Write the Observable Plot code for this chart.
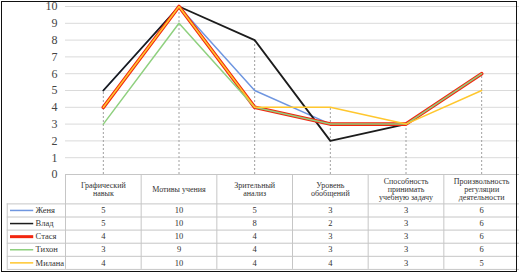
<!DOCTYPE html>
<html>
<head>
<meta charset="utf-8">
<script src="https://cdn.jsdelivr.net/npm/d3@7"></script>
<script src="https://cdn.jsdelivr.net/npm/@observablehq/plot@0.6"></script>
<style>
  html, body { margin: 0; padding: 0; background: #fff; }
  #wrap { position: relative; width: 519px; height: 275px; }
  #wrap svg, #wrap svg text { font-family: "Liberation Serif", "DejaVu Serif", serif !important; }
  #border { position: absolute; left: 1px; top: 1px; width: 514px; height: 269px; border: 1.5px solid #111; pointer-events: none; }
</style>
</head>
<body>
<div id="wrap"><div id="border"></div></div>
<script>
const categories = ["Графический навык", "Мотивы учения", "Зрительный анализ", "Уровень обобщений", "Способность принимать учебную задачу", "Произвольность регуляции деятельности"];
const headerLabels = ["Графический\nнавык", "Мотивы учения", "Зрительный\nанализ", "Уровень\nобобщений", "Способность\nпринимать\nучебную задачу", "Произвольность\nрегуляции\nдеятельности"];
const names = ["Женя", "Влад", "Стася", "Тихон", "Милана"];
const zhenya = [5, 10, 5, 3, 3, 6];
const vlad   = [5, 10, 8, 2, 3, 6];
const stasya = [4, 10, 4, 3, 3, 6];
const tikhon = [3, 9, 4, 3, 3, 6];
const milana = [4, 10, 4, 4, 3, 5];
const yTicks = [0, 1, 2, 3, 4, 5, 6, 7, 8, 9, 10];

const seriesValues = [zhenya, vlad, stasya, tikhon, milana];
const colors = ["#6f96e0", "#1c1c1c", "#f2260f", "#8fd07f", "#ffc72e"];
const widths = [1.5, 1.8, 3.6, 1.5, 1.5];
const FONT = "Liberation Serif";

const rows = names.flatMap((n, s) => seriesValues[s].map((v, i) => ({name: n, s, i, v})));
const maxPerCat = categories.map((c, i) => ({i, v: d3.max(seriesValues, a => a[i])}));

// table layout in y-units (below the 0 line)
const headerBottom = -1.75;
const rowH = -0.78;
const tableBottom = headerBottom + rowH * names.length;
const legendLeft = -0.77;
const swatchX1 = -0.727, swatchX2 = -0.42, labelX = -0.395;
const rowMid = s => headerBottom + rowH * (s + 0.5);

const marks = [];
marks.push(Plot.ruleY(yTicks.filter(t => t > 0), {stroke: "#dadada", strokeWidth: 1}));
marks.push(Plot.ruleX(maxPerCat, {x: d => d.i + 0.5, y1: 0, y2: "v", stroke: "#a0a0a0", strokeDasharray: "2,2", strokeWidth: 1}));
marks.push(Plot.ruleY([0], {x1: 0, x2: 6, stroke: "#c6c6c6"}));
marks.push(Plot.ruleY(d3.range(names.length + 1).map(k => headerBottom + rowH * k), {x1: legendLeft, x2: 6, stroke: "#c6c6c6"}));
marks.push(Plot.ruleX(d3.range(categories.length + 1), {y1: 0, y2: tableBottom, stroke: "#c6c6c6"}));
marks.push(Plot.ruleX([legendLeft], {y1: headerBottom, y2: tableBottom, stroke: "#c6c6c6"}));
names.forEach((n, s) => {
  marks.push(Plot.line(rows.filter(d => d.s === s), {x: d => d.i + 0.5, y: "v", stroke: colors[s], strokeWidth: widths[s], strokeLinejoin: "round", strokeLinecap: "round"}));
});
marks.push(Plot.text(categories, {x: (d, i) => i + 0.5, y: () => headerBottom / 2, text: (d, i) => headerLabels[i], fontSize: 8, lineHeight: 1.02, fill: "#333", fontFamily: FONT}));
marks.push(Plot.text(rows, {x: d => d.i + 0.5, y: d => rowMid(d.s), text: d => String(d.v), fontSize: 8.5, fill: "#333", fontFamily: FONT}));
marks.push(Plot.ruleY(names, {x1: swatchX1, x2: swatchX2, y: (d, s) => rowMid(s), stroke: (d, s) => colors[s], strokeWidth: (d, s) => widths[s] === 3.6 ? 3 : 1.5}));
marks.push(Plot.text(names, {x: labelX, y: (d, s) => rowMid(s), text: d => d, textAnchor: "start", fontSize: 8.5, fill: "#333", fontFamily: FONT}));
marks.push(Plot.axisY({ticks: yTicks, tickSize: 0, tickPadding: 8, fontSize: 12, label: null, tickFormat: d => String(d), fontFamily: FONT}));

const chart = Plot.plot({
  width: 519,
  height: 275,
  marginLeft: 65,
  marginRight: 0,
  marginTop: 6,
  marginBottom: 101,
  style: {fontFamily: FONT, color: "#444", background: "transparent", overflow: "visible"},
  x: {type: "linear", domain: [0, 6], range: [65, 519], axis: null},
  y: {domain: [0, 10], range: [174, 6], axis: null},
  marks
});
document.getElementById("wrap").prepend(chart);
</script>
</body>
</html>
